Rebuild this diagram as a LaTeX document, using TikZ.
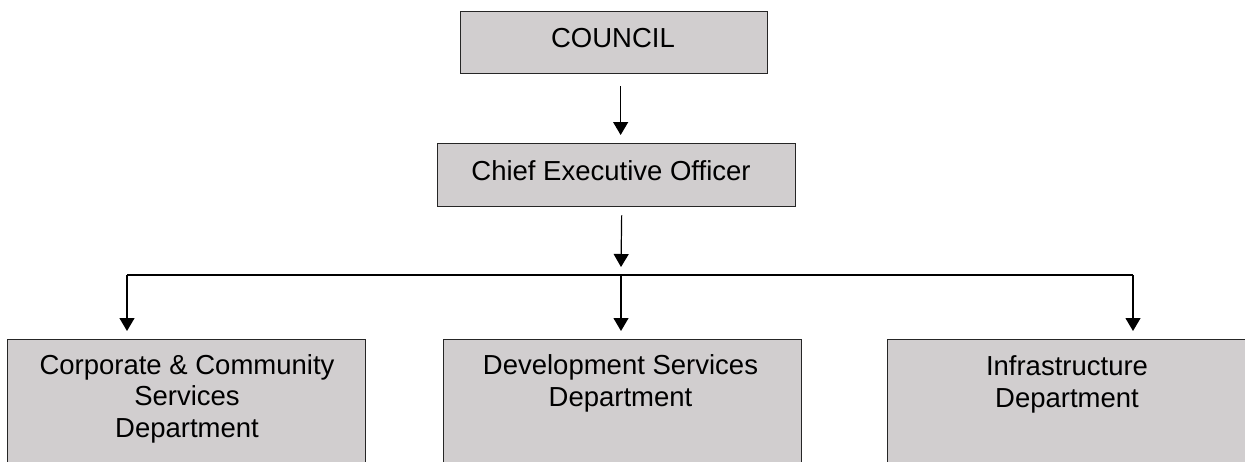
\documentclass[tikz,border=0pt]{standalone}
\usepackage{fontspec}
\setmainfont{Liberation Sans}
\usetikzlibrary{arrows.meta}
\definecolor{boxgray}{RGB}{209,206,207}
\tikzset{
  box/.style={draw=black!85, line width=1.3pt, fill=boxgray, anchor=north west, inner sep=0pt},
  lbl/.style={anchor=base, align=center, inner sep=0pt, font=\fontsize{27.5}{31.6}\selectfont},
  conn/.style={draw=black, line width=1.2pt},
  arr/.style={conn, -{Triangle[width=15pt,length=13pt]}}
}
\begin{document}
\begin{tikzpicture}[x=1pt,y=-1pt]
\useasboundingbox (0,0) rectangle (1245,461);
\clip (0,0) rectangle (1245,461);
% boxes
\node[box, minimum width=307pt, minimum height=62pt] (council) at (460,11) {};
\node[box, minimum width=358pt, minimum height=63pt] (ceo) at (437,143) {};
\node[box, minimum width=358pt, minimum height=140pt] (corp) at (7,339) {};
\node[box, minimum width=358pt, minimum height=140pt] (dev) at (443,339) {};
\node[box, minimum width=360pt, minimum height=140pt] (infra) at (887,339) {};
% labels (base anchor = baseline of the last line)
\node[lbl] (tcouncil) at (613,47) {COUNCIL};
\node[lbl] (tceo) at (611,180) {Chief Executive Officer};
\node[lbl] (tcorp) at (187,437.5) {Corporate \& Community\\Services\\Department};
\node[lbl] (tdev) at (620.5,406) {Development Services\\Department};
\node[lbl] (tinfra) at (1067,407) {Infrastructure\\Department};
% junctions
\coordinate (j) at (621,275);
\coordinate (jl) at (127,275);
\coordinate (jr) at (1133,275);
% connectors
\draw[arr] ([xshift=6.5pt,yshift=-12pt]council.south) -- ([xshift=4pt,yshift=8pt]ceo.north);
\draw[arr] ([xshift=5pt,yshift=-8pt]ceo.south) -- ([yshift=8pt]j);
\draw[conn] (jl) -- (jr);
\draw[arr] (jl) -- ([yshift=8pt]jl |- corp.north);
\draw[arr] (j) -- ([yshift=8pt]j |- dev.north);
\draw[arr] (jr) -- ([yshift=8pt]jr |- infra.north);
\end{tikzpicture}
\end{document}
